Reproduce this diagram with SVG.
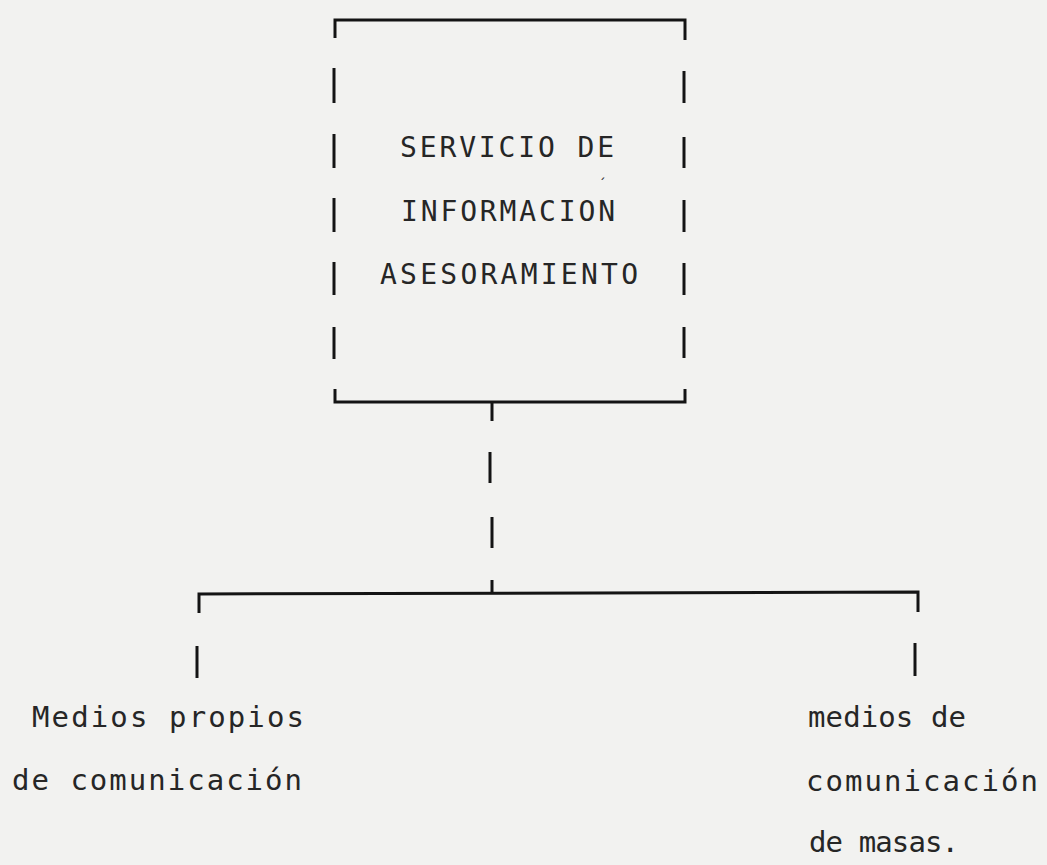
<svg xmlns="http://www.w3.org/2000/svg" width="1047" height="865" viewBox="0 0 1047 865">
<style>
.ln{fill:none;stroke:#141414;stroke-width:3;stroke-linecap:butt;stroke-linejoin:miter}
.t{font-family:"DejaVu Sans Mono","Liberation Mono",monospace;fill:#262626}
.box{font-size:28px}
.lbl{font-size:29px}
</style>
<rect x="0" y="0" width="1047" height="865" fill="#f2f2f0"/>
<g id="servicio">
<path class="ln" d="M335,38 V20 H685 V40"/>
<path class="ln" d="M334,68 V103 M334,134 V168 M334,198 V232 M334,262 V295 M334,327 V359"/>
<path class="ln" d="M684,71 V103 M684,137 V168 M684,200 V232 M684,263 V295 M684,327 V358"/>
<path class="ln" d="M335,389 V402 H685 V389"/>
<text class="t box" x="400" y="157" textLength="214" lengthAdjust="spacing">SERVICIO DE</text>
<text class="t box" x="401" y="221" textLength="214" lengthAdjust="spacing">INFORMACION</text>
<text class="t" x="598" y="189" font-size="14px">´</text>
<text class="t box" x="380" y="284" textLength="258" lengthAdjust="spacing">ASESORAMIENTO</text>
</g>
<g id="connectors">
<path class="ln" d="M492,402 V421"/>
<path class="ln" d="M490,452 V483"/>
<path class="ln" d="M492,517 V548"/>
<path class="ln" d="M492,580 V593"/>
<path class="ln" d="M199,613 V594 L918,592 V612"/>
<path class="ln" d="M197,646 V678"/>
<path class="ln" d="M915,643 V676"/>
</g>
<g id="medios-propios">
<text class="t lbl" x="32" y="727" textLength="272" lengthAdjust="spacing">Medios propios</text>
<text class="t lbl" x="12" y="790" textLength="290" lengthAdjust="spacing">de comunicación</text>
</g>
<g id="medios-masas">
<text class="t lbl" x="808" y="727" textLength="158" lengthAdjust="spacing">medios de</text>
<text class="t lbl" x="806" y="791" textLength="232" lengthAdjust="spacing">comunicación</text>
<text class="t lbl" x="809" y="852" textLength="150" lengthAdjust="spacing">de masas.</text>
</g>
</svg>
